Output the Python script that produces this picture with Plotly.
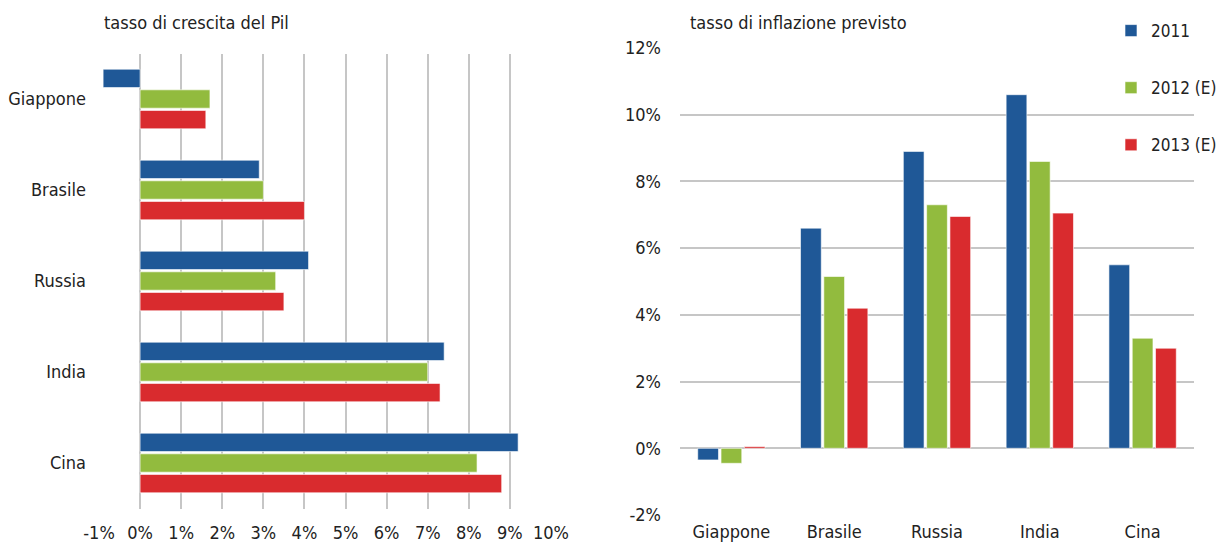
import plotly.graph_objects as go

categories = ["Giappone", "Brasile", "Russia", "India", "Cina"]
series_names = ["2011", "2012 (E)", "2013 (E)"]

gdp_2011 = [-0.9, 2.9, 4.1, 7.4, 9.2]
gdp_2012 = [1.7, 3.0, 3.3, 7.0, 8.2]
gdp_2013 = [1.6, 4.0, 3.5, 7.3, 8.8]

inf_2011 = [-0.35, 6.6, 8.9, 10.6, 5.5]
inf_2012 = [-0.45, 5.15, 7.3, 8.6, 3.3]
inf_2013 = [0.05, 4.2, 6.95, 7.05, 3.0]

left_ticks = [-1, 0, 1, 2, 3, 4, 5, 6, 7, 8, 9, 10]
right_ticks = [-2, 0, 2, 4, 6, 8, 10, 12]

colors = ["#1F5897", "#92BB3E", "#D92B2E"]
FONT = "DejaVu Sans Condensed, sans-serif"
FS = 18
GRID = "#C6C6C6"

fig = go.Figure()

gdp = [gdp_2011, gdp_2012, gdp_2013]
inf = [inf_2011, inf_2012, inf_2013]

for i in range(3):
    fig.add_trace(go.Bar(
        y=categories, x=gdp[i], orientation="h", name=series_names[i],
        marker=dict(color=colors[i], line=dict(color="rgba(255,255,255,0.6)", width=1)),
        xaxis="x", yaxis="y", showlegend=False, legendgroup=series_names[i]))

for i in range(3):
    fig.add_trace(go.Bar(
        x=categories, y=inf[i], name=series_names[i],
        marker=dict(color=colors[i], line=dict(color="rgba(255,255,255,0.6)", width=1)),
        xaxis="x2", yaxis="y2", showlegend=True, legendgroup="g" + str(i)))

fig.update_layout(
    width=1223, height=543,
    margin=dict(l=0, r=0, t=0, b=0, autoexpand=False),
    paper_bgcolor="white", plot_bgcolor="white",
    font=dict(family=FONT, size=FS, color="#222222"),
    barmode="group", bargap=0.32, bargroupgap=0.11,
    xaxis=dict(domain=[99 / 1223, 551 / 1223], anchor="y", range=[-1, 10],
               tickvals=left_ticks, ticktext=[f"{v}%" for v in left_ticks],
               showgrid=True, gridcolor=GRID, gridwidth=1.5, zeroline=False,
               showline=False, ticks="", ticklabelstandoff=11, automargin=False),
    yaxis=dict(domain=[(543 - 508.5) / 543, (543 - 53.5) / 543], anchor="x",
               autorange="reversed", showgrid=False, zeroline=False,
               showline=False, ticks="", ticklabelstandoff=12, automargin=False),
    xaxis2=dict(domain=[680 / 1223, 1194 / 1223], anchor="y2", showgrid=False,
                zeroline=False, showline=False, ticks="", ticklabelstandoff=4,
                automargin=False),
    yaxis2=dict(domain=[(543 - 515) / 543, (543 - 48) / 543], anchor="x2",
                range=[-2, 12],
                tickvals=right_ticks, ticktext=[f"{v}%" for v in right_ticks],
                showgrid=True, gridcolor=GRID, gridwidth=1.5, zeroline=False,
                showline=False, ticks="", ticklabelstandoff=18, automargin=False),
    legend=dict(x=1111 / 1223, y=0.976, xanchor="left", yanchor="top",
                traceorder="grouped", tracegroupgap=32,
                font=dict(family=FONT, size=17, color="#222222"),
                bgcolor="rgba(0,0,0,0)", itemwidth=30),
    annotations=[
        dict(text="tasso di crescita del Pil", x=102 / 1223, y=1 - 22 / 543,
             xref="paper", yref="paper", xanchor="left", yanchor="middle",
             showarrow=False, font=dict(family=FONT, size=FS, color="#222222")),
        dict(text="tasso di inflazione previsto", x=688 / 1223, y=1 - 22 / 543,
             xref="paper", yref="paper", xanchor="left", yanchor="middle",
             showarrow=False, font=dict(family=FONT, size=FS, color="#222222")),
    ],
)

fig.write_html("out.html", config={"displayModeBar": False},
               post_script="document.body.style.margin='0';")
